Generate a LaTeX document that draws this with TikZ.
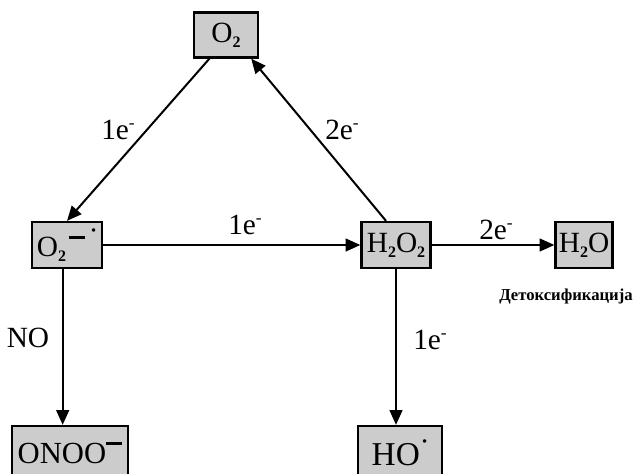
\documentclass[tikz,border=0pt]{standalone}
\usepackage{fontspec}
\setmainfont{Liberation Serif}
\usetikzlibrary{arrows.meta,calc}
\tikzset{
  box/.style={draw, line width=1.7pt, fill=black!20, inner sep=0pt, font=\fontsize{22}{24}\selectfont},
  arr/.style={line width=1.5pt, -{Triangle[length=11pt,width=9.5pt]}},
  lbl/.style={font=\fontsize{22}{26}\selectfont, inner sep=0pt},
}
\newcommand{\sub}[1]{\raisebox{-0.4ex}{\fontsize{12}{13}\selectfont\bfseries #1}}
\newcommand{\supm}{\raisebox{0.8ex}{\fontsize{13}{14}\selectfont -}}
\begin{document}
\begin{tikzpicture}[x=0.75pt,y=-0.75pt]
\useasboundingbox (0,0) rectangle (636,474);
\begin{scope}
\clip (0,0) rectangle (636,474);
\node[box, minimum width=64*0.75pt, minimum height=45*0.75pt] (o2) at (226,35) {O\sub{2}};
\node[box, minimum width=70*0.75pt, minimum height=46*0.75pt] (o2m) at (67,245) {O\sub{2}\hspace{2pt}\raisebox{1.3ex}{\rule{12pt}{1.8pt}\hspace{4pt}\raisebox{0.1ex}{\fontsize{16}{16}\selectfont\textbf{·}}}};
\node[box, minimum width=69*0.75pt, minimum height=46*0.75pt] (h2o2) at (396,245) {H\sub{2}O\sub{2}};
\node[box, minimum width=57*0.75pt, minimum height=46*0.75pt] (h2o) at (584,245) {H\sub{2}O};
\node[box, font=\fontsize{23}{26}\selectfont, minimum width=116*0.75pt, minimum height=54*0.75pt] (onoo) at (70,453) {ONOO\raisebox{1.35ex}{\rule{12pt}{1.8pt}}};
\node[box, font=\fontsize{25}{26}\selectfont, minimum width=84*0.75pt, minimum height=54*0.75pt] (ho) at (400,453) {HO\hspace{1pt}\raisebox{1.1ex}{\fontsize{16}{16}\selectfont\textbf{·}}};
\end{scope}
\node[font=\fontsize{12.5}{13}\selectfont\bfseries, inner sep=0pt] (detox) at (566,296) {Детоксификација};

\coordinate (a1s) at ($(o2.south west)!0.25!(o2.south east)$);
\coordinate (a2s) at ($(h2o2.north west)!0.36!(h2o2.north east)$);
\coordinate (a2e) at ($(o2.south west)!0.88!(o2.south east)$);
\coordinate (v1s) at ($(o2m.south west)!0.44!(o2m.south east)$);
\coordinate (v1e) at (v1s |- onoo.north);
\coordinate (v2s) at (h2o2.south);
\coordinate (v2e) at (v2s |- ho.north);

\draw[arr] (a1s) -- (o2m.north);
\draw[arr] (a2s) -- (a2e);
\draw[arr] (o2m.east) -- (h2o2.west);
\draw[arr] (h2o2.east) -- (h2o.west);
\draw[arr] (v1s) -- (v1e);
\draw[arr] (v2s) -- (v2e);

\node[lbl] (l1) at (118,130) {1e\supm};
\node[lbl] (l2) at (342,130) {2e\supm};
\node[lbl] (l3) at (245,225) {1e\supm};
\node[lbl] (l4) at (496,230) {2e\supm};
\node[lbl] (l5) at (28,338) {NO};
\node[lbl] (l6) at (430,340) {1e\supm};
\end{tikzpicture}
\end{document}
